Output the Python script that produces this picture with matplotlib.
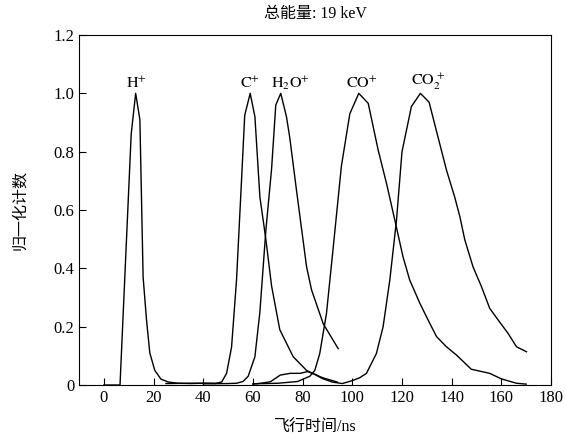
import matplotlib
matplotlib.use("Agg")
import matplotlib.pyplot as plt

# flight time (ns) and normalised counts
h_x = [0, 6.5, 11, 12.8, 14.5, 15.8, 17.2, 18.5, 20.5, 23, 26, 30, 35, 40, 45]
h_y = [0, 0, 0.86, 1.0, 0.91, 0.37, 0.22, 0.11, 0.05, 0.02, 0.01, 0.006, 0.005, 0.006, 0.005]

c_x = [25, 35, 45, 47.4, 49.4, 51.4, 53.4, 55.4, 56.7, 58.9, 60.8, 62.8, 65.2, 67.5,
       70.8, 76.2, 81.6, 84, 88, 94]
c_y = [0.005, 0.006, 0.006, 0.01, 0.04, 0.13, 0.36, 0.70, 0.925, 1.0, 0.92, 0.645, 0.50,
       0.34, 0.19, 0.097, 0.05, 0.04, 0.025, 0.01]

h2o_x = [40, 50, 53.4, 56, 58.1, 60.8, 62.8, 65.2, 67.5, 69.2, 71.2, 73.5, 74.8, 77.5,
         81.6, 83.6, 88.3, 94.3]
h2o_y = [0.004, 0.005, 0.006, 0.012, 0.03, 0.097, 0.25, 0.53, 0.74, 0.96, 1.0, 0.92, 0.85,
         0.67, 0.405, 0.326, 0.21, 0.125]

co_x = [60, 70, 78, 82.9, 84.9, 86.9, 89.6, 92.3, 95.6, 99, 102.6, 106.4, 110.4, 113.8,
        117.1, 120.4, 123.1, 127.2, 130.5, 133.9, 137.9, 141.9, 147.9, 155.3, 160, 166.1, 170]
co_y = [0.004, 0.006, 0.012, 0.03, 0.05, 0.108, 0.245, 0.47, 0.75, 0.93, 1.0, 0.966, 0.806,
        0.69, 0.566, 0.44, 0.36, 0.28, 0.223, 0.166, 0.131, 0.103, 0.054, 0.04, 0.021, 0.006,
        0.003]

co2_x = [60, 63, 67, 71, 75, 79, 82, 85, 88, 92, 96, 100, 103, 105.7, 109.7, 112.4, 115.1,
         117.8, 120, 123.8, 127.4, 130.9, 134.5, 137.9, 141.2, 143.3, 145.3, 148.6, 152,
         155.3, 158.7, 162.7, 166.1, 170.1]
co2_y = [0.003, 0.006, 0.011, 0.034, 0.04, 0.04, 0.046, 0.036, 0.022, 0.01, 0.005, 0.015,
         0.025, 0.04, 0.108, 0.2, 0.36, 0.566, 0.80, 0.955, 1.0, 0.97, 0.85, 0.737, 0.645,
         0.577, 0.497, 0.405, 0.337, 0.263, 0.223, 0.177, 0.131, 0.114]

ion_labels = [r"$\mathrm{H^{+}}$", r"$\mathrm{C^{+}}$", r"$\mathrm{H_2O^{+}}$",
              r"$\mathrm{CO^{+}}$", r"$\mathrm{CO_2^{\,+}}$"]
label_x = [13.3, 58.8, 75.0, 103.7, 130.5]

x_ticks = list(range(0, 181, 20))
y_ticks = [0, 0.2, 0.4, 0.6, 0.8, 1.0, 1.2]
y_tick_labels = ["0", "0.2", "0.4", "0.6", "0.8", "1.0", "1.2"]

plt.rcParams["font.family"] = ["Liberation Serif", "Noto Sans CJK SC"]
plt.rcParams["mathtext.fontset"] = "stix"
plt.rcParams["font.size"] = 11

fig = plt.figure(figsize=(5.66, 4.38), dpi=100)
ax = fig.add_axes([0.1396, 0.121, 0.834, 0.799])

for xs, ys in [(h_x, h_y), (c_x, c_y), (h2o_x, h2o_y), (co_x, co_y), (co2_x, co2_y)]:
    ax.plot(xs, ys, color="black", lw=1.0)

for lx, lab in zip(label_x, ion_labels):
    ax.text(lx, 1.005, lab, ha="center", va="bottom", fontsize=11.5)

ax.set_xlim(-10, 180)
ax.set_ylim(0, 1.2)
ax.set_xticks(x_ticks)
ax.set_yticks(y_ticks)
ax.set_yticklabels(y_tick_labels)
ax.tick_params(direction="in", length=5, width=0.8, top=False, right=False, labelsize=12)
for sp in ax.spines.values():
    sp.set_linewidth(0.8)

ax.set_title("总能量: 19 keV", fontsize=11.5, pad=12)
ax.set_xlabel("飞行时间/ns", fontsize=11.5, labelpad=10)
ax.set_ylabel("归一化计数", fontsize=11.5, labelpad=18)

fig.savefig("out.png", dpi=100)
